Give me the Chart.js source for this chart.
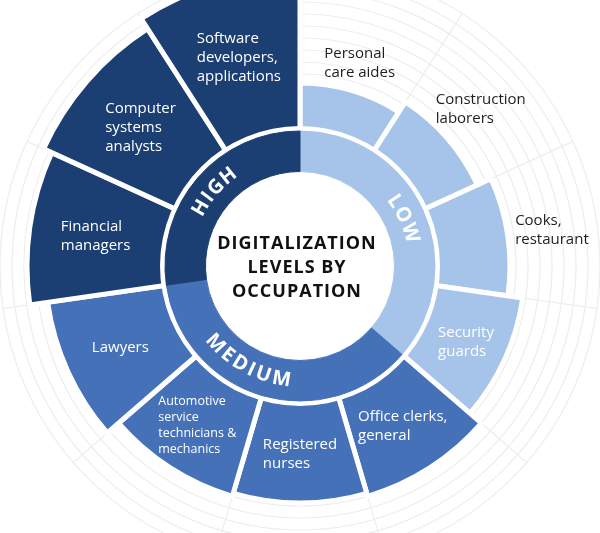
<!DOCTYPE html>
<html>
<head>
<meta charset="utf-8">
<script src="https://cdn.jsdelivr.net/npm/chart.js@4.4.1/dist/chart.umd.min.js"></script>
<style>
  html, body { margin: 0; padding: 0; background: #fff; overflow: hidden; }
  #wrap { position: absolute; left: 0; top: -34px; width: 600px; height: 600px; }
  #wrap canvas { position: absolute; left: 0; top: 0; }
</style>
</head>
<body>
<div id="wrap">
  <canvas id="occupationChart" width="600" height="600"></canvas>
  <canvas id="levelChart" width="600" height="600"></canvas>
</div>
<script>
// Occupations, clockwise from 12 o'clock (label lines as printed)
const occupations = [
  ['Personal', 'care aides'],
  ['Construction', 'laborers'],
  ['Cooks,', 'restaurant'],
  ['Security', 'guards'],
  ['Office clerks,', 'general'],
  ['Registered', 'nurses'],
  ['Automotive', 'service', 'technicians &', 'mechanics'],
  ['Lawyers'],
  ['Financial', 'managers'],
  ['Computer', 'systems', 'analysts'],
  ['Software', 'developers,', 'applications']
];
// Relative digitalization score (sector length)
const scores = [61, 65, 70, 75, 80, 79, 80, 85, 91, 94, 98];
const occupationLevels = ['LOW', 'LOW', 'LOW', 'LOW', 'MEDIUM', 'MEDIUM', 'MEDIUM', 'MEDIUM', 'HIGH', 'HIGH', 'HIGH'];
const levels = ['LOW', 'MEDIUM', 'HIGH'];
const levelCounts = levels.map(l => occupationLevels.filter(x => x === l).length);
const titleLines = ['DIGITALIZATION', 'LEVELS BY', 'OCCUPATION'];

// styling
const levelColors = { LOW: '#a6c4e9', MEDIUM: '#4571b9', HIGH: '#1c3f73' };
const levelTextShift = { LOW: 0, MEDIUM: 12, HIGH: 0 }; // degrees
const FONT = '"Open Sans", "Noto Sans", sans-serif';
const RING_OUTER = 135;
const SECTOR_START = 140;

Chart.defaults.font.family = FONT;

// Occupation names placed on (or just outside) each sector
const occupationLabels = {
  id: 'occupationLabels',
  afterDatasetsDraw(chart) {
    const ctx = chart.ctx;
    chart.getDatasetMeta(0).data.forEach((arc, i) => {
      const { x, y, startAngle, endAngle, outerRadius } =
        arc.getProps(['x', 'y', 'startAngle', 'endAngle', 'outerRadius'], true);
      const mid = (startAngle + endAngle) / 2;
      const lines = occupations[i];
      const small = lines.length > 3;
      const lh = small ? 16 : 19;
      ctx.save();
      ctx.font = (small ? '12.5px ' : '15px ') + FONT;
      const w = Math.max(...lines.map(t => ctx.measureText(t).width));
      const h = lines.length * lh;
      const c = Math.cos(mid), s = Math.sin(mid);
      const outside = outerRadius < 218;
      const r = outside
        ? outerRadius + 8 + Math.hypot(c * w / 2, s * h / 2)
        : (SECTOR_START + outerRadius) / 2;
      const cx = x + r * c, cy = y + r * s;
      ctx.fillStyle = outside ? '#1e1e1e' : '#ffffff';
      ctx.textAlign = 'left';
      ctx.textBaseline = 'middle';
      lines.forEach((t, k) => ctx.fillText(t, cx - w / 2, cy - h / 2 + lh * (k + 0.5)));
      ctx.restore();
    });
  }
};

function drawCurvedText(ctx, text, cx, cy, radius, centerAngle, spacing) {
  const bottom = Math.sin(centerAngle) > 0.3;
  const dir = bottom ? -1 : 1;
  const chars = [...text];
  const widths = chars.map(ch => ctx.measureText(ch).width);
  const total = widths.reduce((a, b) => a + b, 0) + spacing * (chars.length - 1);
  let a = centerAngle - dir * total / 2 / radius;
  chars.forEach((ch, k) => {
    const half = widths[k] / 2 / radius;
    a += dir * half;
    ctx.save();
    ctx.translate(cx + radius * Math.cos(a), cy + radius * Math.sin(a));
    ctx.rotate(a + dir * Math.PI / 2);
    ctx.fillText(ch, 0, 0);
    ctx.restore();
    a += dir * (half + spacing / radius);
  });
}

// white disc behind the ring, level names along the ring, title in the middle
const levelRing = {
  id: 'levelRing',
  beforeDatasetsDraw(chart) {
    const ctx = chart.ctx;
    const arc = chart.getDatasetMeta(0).data[0];
    ctx.save();
    ctx.fillStyle = '#ffffff';
    ctx.beginPath();
    ctx.arc(arc.x, arc.y, arc.outerRadius + (SECTOR_START - RING_OUTER), 0, Math.PI * 2);
    ctx.fill();
    ctx.restore();
  },
  afterDatasetsDraw(chart) {
    const ctx = chart.ctx;
    const meta = chart.getDatasetMeta(0);
    ctx.save();
    ctx.fillStyle = '#ffffff';
    ctx.font = 'bold 20px ' + FONT;
    ctx.textAlign = 'center';
    ctx.textBaseline = 'middle';
    meta.data.forEach((arc, i) => {
      const { x, y, startAngle, endAngle, innerRadius, outerRadius } =
        arc.getProps(['x', 'y', 'startAngle', 'endAngle', 'innerRadius', 'outerRadius'], true);
      const mid = (startAngle + endAngle) / 2 + levelTextShift[levels[i]] * Math.PI / 180;
      drawCurvedText(ctx, levels[i], x, y, (innerRadius + outerRadius) / 2, mid, 2);
    });
    const { x, y } = meta.data[0];
    ctx.fillStyle = '#111111';
    ctx.font = 'bold 18px ' + FONT;
    ctx.letterSpacing = '1px';
    titleLines.forEach((t, k) => ctx.fillText(t, x - 3, y + 2 + (k - 1) * 24));
    ctx.restore();
  }
};

new Chart(document.getElementById('occupationChart'), {
  type: 'polarArea',
  data: {
    labels: occupations.map(o => o.join(' ')),
    datasets: [{
      data: scores,
      backgroundColor: occupationLevels.map(l => levelColors[l]),
      borderColor: '#ffffff',
      borderWidth: 5
    }]
  },
  options: {
    responsive: false,
    animation: false,
    events: [],
    layout: { padding: 0 },
    plugins: { legend: { display: false }, tooltip: { enabled: false } },
    scales: {
      r: {
        min: 0,
        max: 100,
        startAngle: 0,
        ticks: { display: false, stepSize: 4 },
        grid: { color: '#ededed', lineWidth: 1.2 },
        angleLines: { display: true, color: '#ededed', lineWidth: 1.2 },
        pointLabels: { display: false }
      }
    }
  },
  plugins: [occupationLabels]
});

new Chart(document.getElementById('levelChart'), {
  type: 'doughnut',
  data: {
    labels: levels,
    datasets: [{
      data: levelCounts,
      backgroundColor: levels.map(l => levelColors[l]),
      borderColor: levels.map(l => levelColors[l]),
      borderWidth: 1
    }]
  },
  options: {
    responsive: false,
    animation: false,
    events: [],
    radius: RING_OUTER,
    cutout: '70%',
    rotation: 0,
    layout: { padding: 0 },
    plugins: { legend: { display: false }, tooltip: { enabled: false } }
  },
  plugins: [levelRing]
});
</script>
</body>
</html>
